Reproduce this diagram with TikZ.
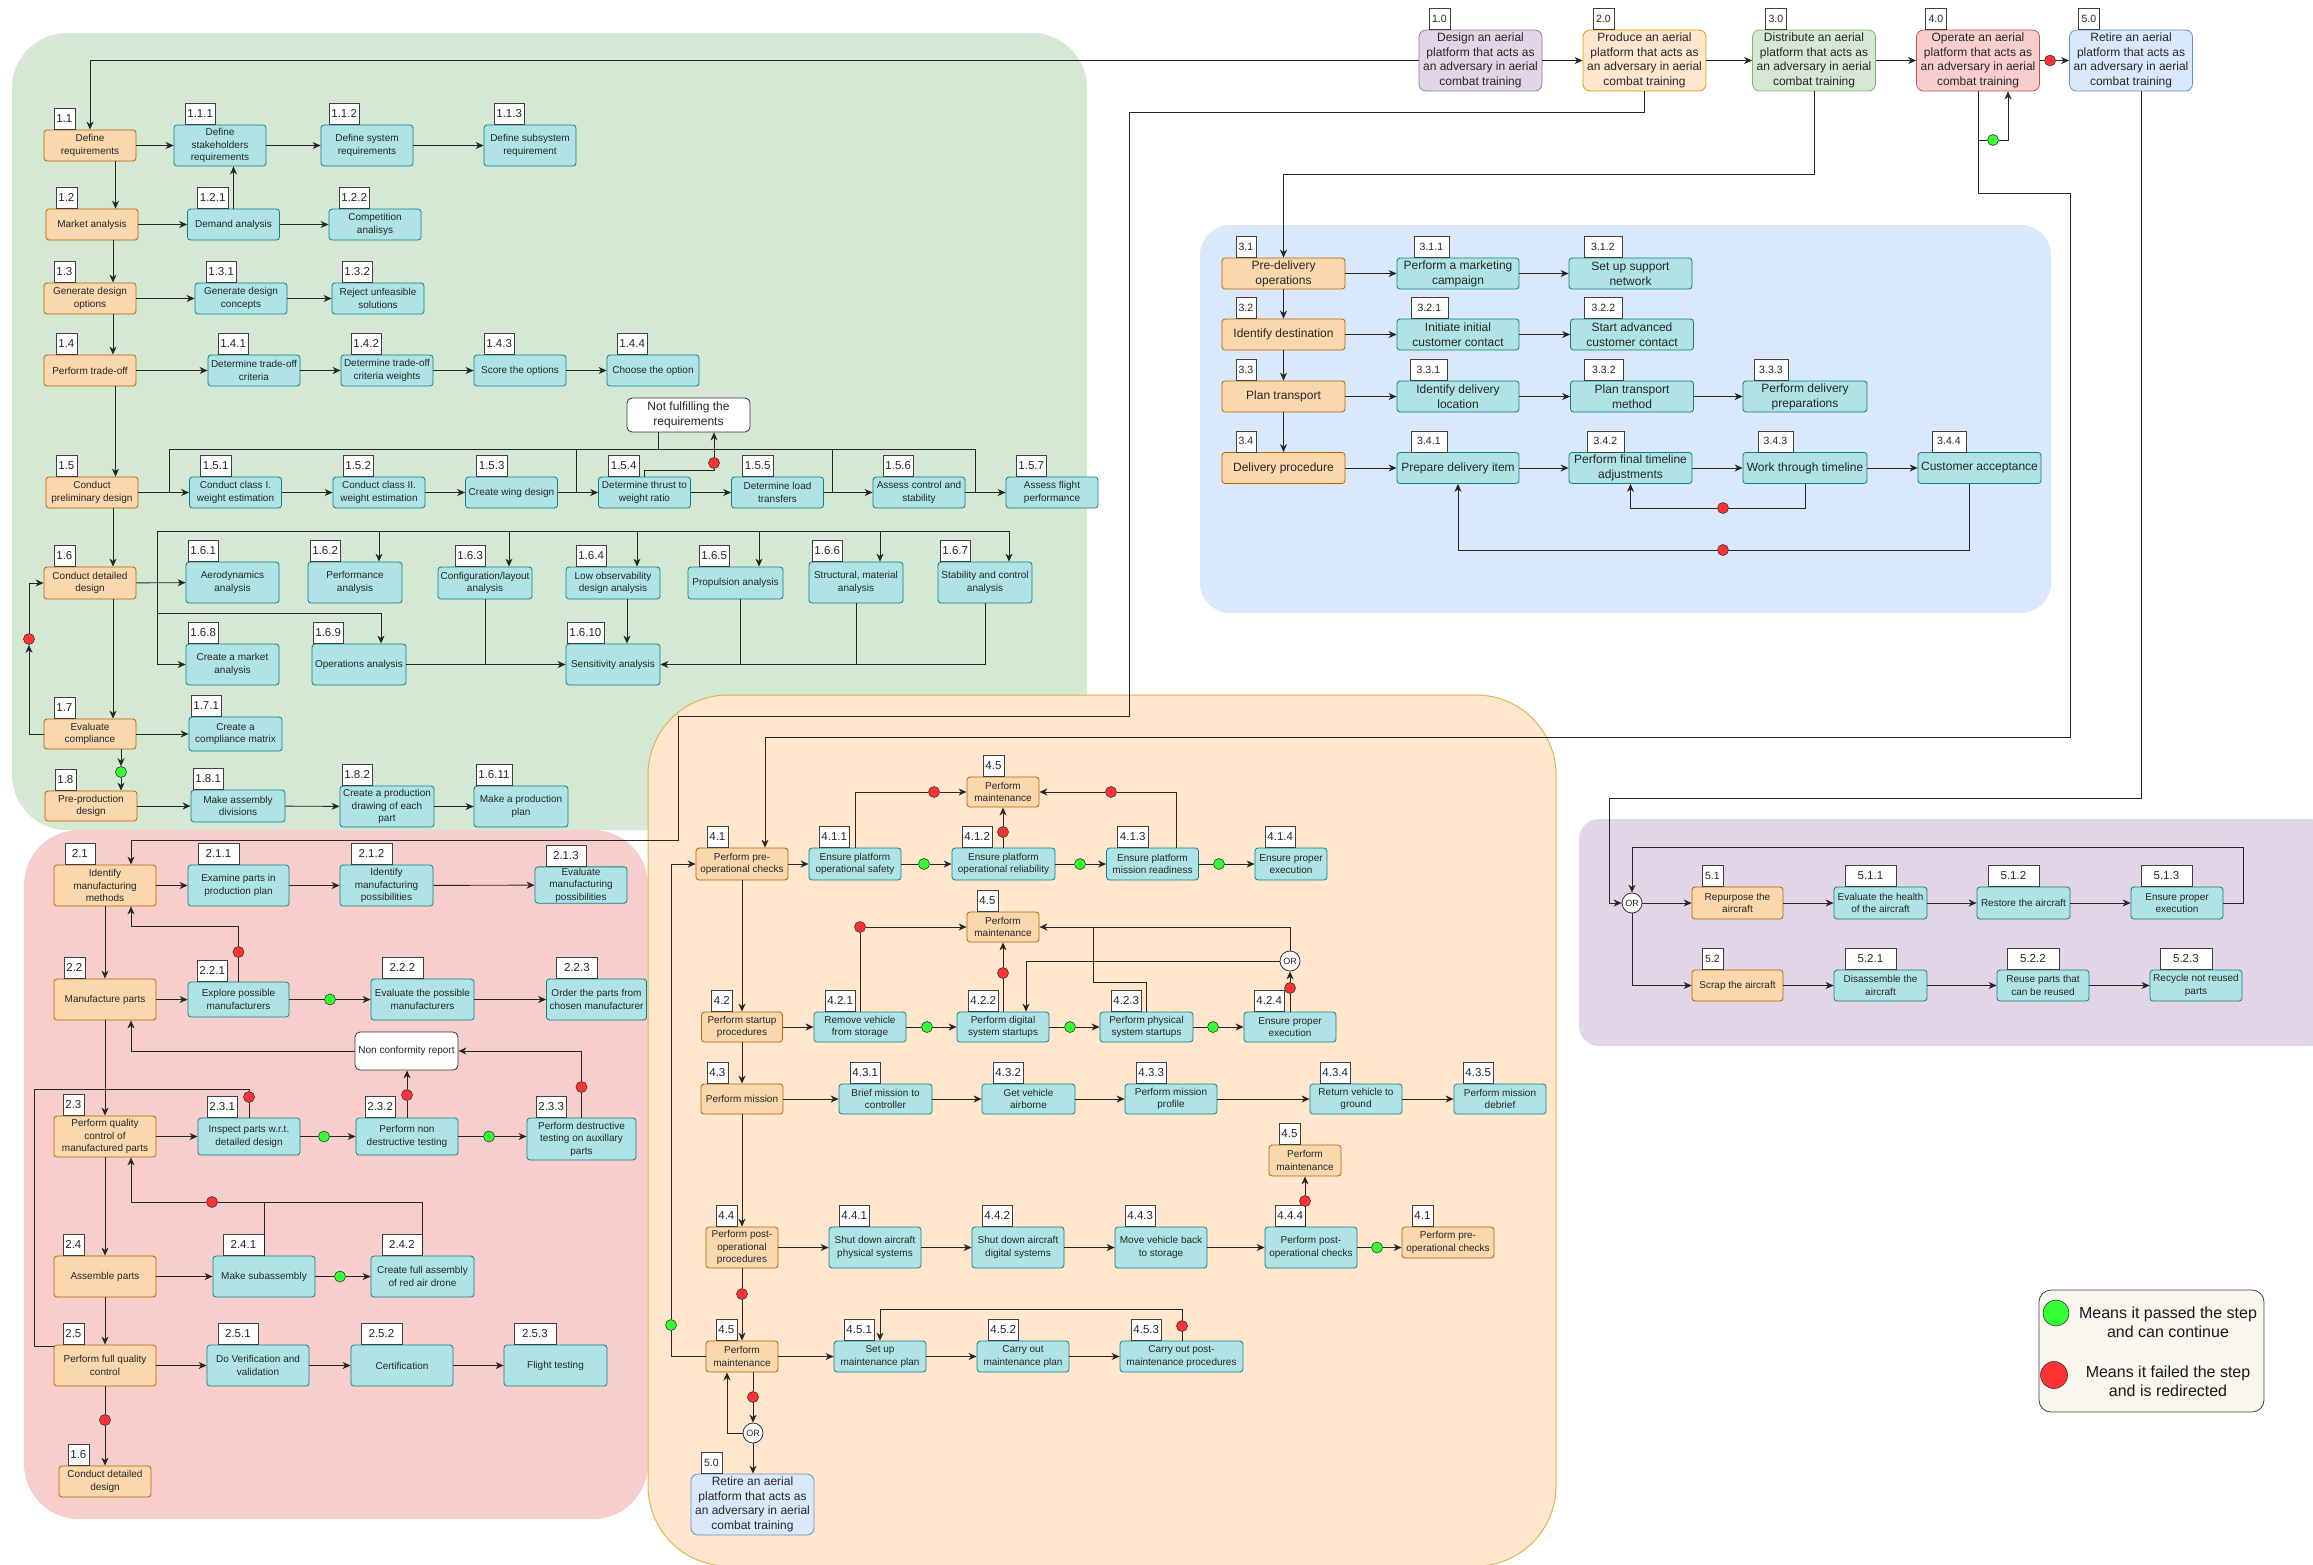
\documentclass[tikz,border=0pt]{standalone}
\usepackage{fontspec}
\setmainfont{Liberation Sans}
\usetikzlibrary{arrows.meta, positioning}

\definecolor{tealfill}{HTML}{B0E3E6}
\definecolor{tealline}{HTML}{0E8088}
\definecolor{phasefill}{HTML}{FAD7AC}
\definecolor{phaseline}{HTML}{B46504}
\definecolor{greenbg}{HTML}{D5E8D4}
\definecolor{greenline}{HTML}{82B366}
\definecolor{redbg}{HTML}{F8CECC}
\definecolor{redline}{HTML}{B85450}
\definecolor{orangebg}{HTML}{FFE6CC}
\definecolor{orangeline}{HTML}{D79B00}
\definecolor{orangerim}{HTML}{D6B656}
\definecolor{bluebg}{HTML}{DAE8FC}
\definecolor{blueline}{HTML}{6C8EBF}
\definecolor{purplebg}{HTML}{E1D5E7}
\definecolor{purpleline}{HTML}{9673A6}
\definecolor{passgreen}{HTML}{33FF33}
\definecolor{failred}{HTML}{FF3333}
\definecolor{legendfill}{HTML}{F9F7ED}

\begin{document}
\begin{tikzpicture}[
    x=1pt, y=-1pt,
    taskbox/.style={rectangle, rounded corners=3pt, draw=tealline, fill=tealfill, line width=0.8pt, align=center, inner sep=1pt, text=black!85, font=\fontsize{10}{12.5}\selectfont, minimum width=92pt, minimum height=31pt},
    phasebox/.style={taskbox, draw=phaseline, fill=phasefill},
    bigtext/.style={font=\fontsize{12}{15}\selectfont},
    lvlbox/.style={rectangle, rounded corners=7pt, line width=0.8pt, align=center, inner sep=1pt, text=black!85, font=\fontsize{12}{14.7}\selectfont, minimum width=123pt, minimum height=61pt},
    notebox/.style={rectangle, rounded corners=5pt, draw=black!80, fill=white, line width=0.8pt, align=center, inner sep=1pt, text=black!85},
    numtag/.style={rectangle, sharp corners, draw=black!75, fill=white, line width=0.6pt, text=black!85, inner xsep=2.5pt, inner ysep=0pt, minimum width=0pt, minimum height=21pt, anchor=south west, font=\fontsize{11.5}{12}\selectfont},
    tg/.style 2 args={label={[numtag, xshift=#1pt]north west:#2}},
    tgw/.style n args={3}{label={[numtag, xshift=#1pt, minimum width=#2pt]north west:#3}},
    tgs/.style n args={3}{label={[numtag, font=\fontsize{10.5}{11}\selectfont, xshift=#1pt, minimum width=#2pt]north west:#3}},
    wd/.style={minimum width=#1pt},
    ht/.style={minimum height=#1pt},
    okdot/.style={circle, draw=black!80, fill=passgreen, line width=0.6pt, minimum size=11pt, inner sep=0pt},
    faildot/.style={circle, draw=black!80, fill=failred, line width=0.6pt, minimum size=11pt, inner sep=0pt},
    orgate/.style={circle, draw=black!80, fill=white, line width=0.8pt, minimum size=20pt, inner sep=0pt, text=black!85, font=\fontsize{9}{10}\selectfont},
    arr/.style={draw=black!85, line width=0.9pt, -{Stealth[length=8pt, width=7pt, inset=2.5pt]}},
    ln/.style={draw=black!85, line width=0.9pt}
]
    \useasboundingbox (0,0) rectangle (2313,1564);
    \clip (0,0) rectangle (2313,1564);

    % phase areas
    \fill[greenbg, rounded corners=55pt] (12,33) rectangle (1087,830);
    \fill[redbg, rounded corners=55pt] (24,830) rectangle (648,1519);
    \filldraw[fill=orangebg, draw=orangerim, line width=1pt, rounded corners=80pt] (648,695) rectangle (1556,1566);
    \fill[bluebg, rounded corners=30pt] (1200,225) rectangle (2051,613);
    \fill[purplebg, rounded corners=20pt] (1579,819) rectangle (2330,1046);

    % life cycle
    \node[lvlbox, fill=purplebg, draw=purpleline, tgs={10}{21}{1.0}] (n10) at (1480.5,60.5) {Design an aerial\\platform that acts as\\an adversary in aerial\\combat training};
    \node[lvlbox, fill=orangebg, draw=orangeline, tgs={10}{21}{2.0}] (n20) at (1644.5,60.5) {Produce an aerial\\platform that acts as\\an adversary in aerial\\combat training};
    \node[lvlbox, fill=greenbg, draw=greenline, tgs={13}{21}{3.0}] (n30) at (1814,60.5) {Distribute an aerial\\platform that acts as\\an adversary in aerial\\combat training};
    \node[lvlbox, fill=redbg, draw=redline, tgs={9}{21}{4.0}] (n40) at (1978,60.5) {Operate an aerial\\platform that acts as\\an adversary in aerial\\combat training};
    \node[lvlbox, fill=bluebg, draw=blueline, tgs={9}{21}{5.0}] (n50) at (2131,60.5) {Retire an aerial\\platform that acts as\\an adversary in aerial\\combat training};

    % 1.x design
    \node[phasebox, tg={10}{1.1}] (n11) at (90,145.5) {Define\\requirements};
    \node[taskbox, ht=41, tg={11}{1.1.1}] (n111) at (220,145.5) {Define\\stakeholders\\requirements};
    \node[taskbox, ht=41, tg={8}{1.1.2}] (n112) at (367,145.5) {Define system\\requirements};
    \node[taskbox, ht=41, tg={10}{1.1.3}] (n113) at (530,145.5) {Define subsystem\\requirement};
    \node[phasebox, tg={10}{1.2}] (n12) at (92,224.5) {Market analysis};
    \node[taskbox, tg={10}{1.2.1}] (n121) at (233.5,224.5) {Demand analysis};
    \node[taskbox, tg={10}{1.2.2}] (n122) at (375,224.5) {Competition\\analisys};
    \node[phasebox, tg={10}{1.3}] (n13) at (90,298.5) {Generate design\\options};
    \node[taskbox, tg={11}{1.3.1}] (n131) at (241,298.5) {Generate design\\concepts};
    \node[taskbox, tg={10}{1.3.2}] (n132) at (378,298.5) {Reject unfeasible\\solutions};
    \node[phasebox, tg={12}{1.4}] (n14) at (90,370.5) {Perform trade-off};
    \node[taskbox, tg={10}{1.4.1}] (n141) at (254,370.5) {Determine trade-off\\criteria};
    \node[taskbox, tg={10}{1.4.2}] (n142) at (387,370.5) {Determine trade-off\\criteria weights};
    \node[taskbox, tg={10}{1.4.3}] (n143) at (520,370.5) {Score the options};
    \node[taskbox, tg={10}{1.4.4}] (n144) at (653,370.5) {Choose the option};
    \node[phasebox, tg={10}{1.5}] (n15) at (92,492.5) {Conduct\\preliminary design};
    \node[taskbox, tg={11}{1.5.1}] (n151) at (235.5,492.5) {Conduct class I.\\weight estimation};
    \node[taskbox, tg={10}{1.5.2}] (n152) at (379,492.5) {Conduct class II.\\weight estimation};
    \node[taskbox, tg={11}{1.5.3}] (n153) at (511.5,492.5) {Create wing design};
    \node[taskbox, tg={10}{1.5.4}] (n154) at (644.5,492.5) {Determine thrust to\\weight ratio};
    \node[taskbox, tg={11}{1.5.5}] (n155) at (777.5,492.5) {Determine load\\transfers};
    \node[taskbox, tg={10}{1.5.6}] (n156) at (919,492.5) {Assess control and\\stability};
    \node[taskbox, tg={10}{1.5.7}] (n157) at (1052,492.5) {Assess flight\\performance};
    \node[notebox, font=\fontsize{12}{14.7}\selectfont, wd=123, ht=34] (nfr) at (688.5,415) {Not fulfilling the\\requirements};
    \node[phasebox, ht=32, tg={10}{1.6}] (n16) at (90,583) {Conduct detailed\\design};
    \node[taskbox, wd=93, ht=41, tg={2}{1.6.1}] (n161) at (232.5,582.5) {Aerodynamics\\analysis};
    \node[taskbox, wd=94, ht=41, tg={2}{1.6.2}] (n162) at (355,582.5) {Performance\\analysis};
    \node[taskbox, wd=94, ht=32, tg={17}{1.6.3}] (n163) at (485,583) {Configuration/layout\\analysis};
    \node[taskbox, wd=94, ht=32, tg={10}{1.6.4}] (n164) at (613,583) {Low observability\\design analysis};
    \node[taskbox, wd=95, ht=32, tg={11}{1.6.5}] (n165) at (735.5,583) {Propulsion analysis};
    \node[taskbox, wd=94, ht=41, tg={3}{1.6.6}] (n166) at (856,582.5) {Structural, material\\analysis};
    \node[taskbox, wd=94, ht=41, tg={2}{1.6.7}] (n167) at (985,582.5) {Stability and control\\analysis};
    \node[taskbox, wd=93, ht=41, tg={2}{1.6.8}] (n168) at (232.5,664.5) {Create a market\\analysis};
    \node[taskbox, wd=94, ht=41, tg={1}{1.6.9}] (n169) at (359,664.5) {Operations analysis};
    \node[taskbox, wd=94, ht=41, tg={1}{1.6.10}] (n1610) at (613,664.5) {Sensitivity analysis};
    \node[phasebox, ht=30, tg={10}{1.7}] (n17) at (90,734) {Evaluate\\compliance};
    \node[taskbox, wd=93, ht=34, tg={2}{1.7.1}] (n171) at (235.5,734) {Create a\\compliance matrix};
    \node[phasebox, ht=30, tg={10}{1.8}] (n18) at (91,806) {Pre-production\\design};
    \node[taskbox, wd=94, ht=32, tg={2}{1.8.1}] (n181) at (238,806) {Make assembly\\divisions};
    \node[taskbox, wd=94, ht=41, tg={2}{1.8.2}] (n182) at (387,806.5) {Create a production\\drawing of each\\part};
    \node[taskbox, wd=94, ht=41, tg={2}{1.6.11}] (n1611) at (521,806.5) {Make a production\\plan};

    % 2.x production
    \node[phasebox, wd=102, ht=41, tgw={11}{30}{2.1}] (n21) at (105,885.5) {Identify\\manufacturing\\methods};
    \node[taskbox, wd=101, ht=41, tgw={10}{41}{2.1.1}] (n211) at (238.5,885.5) {Examine parts in\\production plan};
    \node[taskbox, wd=93, ht=41, tgw={11}{41}{2.1.2}] (n212) at (386.5,885.5) {Identify\\manufacturing\\possibilities};
    \node[taskbox, wd=92, ht=34, tgw={11}{40}{2.1.3}] (n213) at (581,885) {Evaluate\\manufacturing\\possibilities};
    \node[phasebox, wd=102, ht=41, tg={10}{2.2}] (n22) at (105,999.5) {Manufacture parts};
    \node[taskbox, wd=101, ht=35, tg={9}{2.2.1}] (n221) at (238.5,999.5) {Explore possible\\manufacturers};
    \node[taskbox, wd=103, ht=41, tgw={11}{41}{2.2.2}] (n222) at (422.5,999.5) {Evaluate the possible\\manufacturers};
    \node[taskbox, wd=100, ht=41, tgw={10}{41}{2.2.3}] (n223) at (596.5,999.5) {Order the parts from\\chosen manufacturer};
    \node[notebox, font=\fontsize{10}{12}\selectfont, wd=103, ht=38] (ncr) at (406.5,1051) {Non conformity report};
    \node[phasebox, wd=102, ht=41, tg={9}{2.3}] (n23) at (105,1136.5) {Perform quality\\control of\\manufactured parts};
    \node[taskbox, wd=102, ht=37, tg={9}{2.3.1}] (n231) at (249,1136.5) {Inspect parts w.r.t.\\detailed design};
    \node[taskbox, wd=102, ht=37, tg={9}{2.3.2}] (n232) at (407,1136.5) {Perform non\\destructive testing};
    \node[taskbox, wd=109, ht=42, tg={9}{2.3.3}] (n233) at (581.5,1139) {Perform destructive\\testing on auxillary\\parts};
    \node[phasebox, wd=102, ht=41, tg={9}{2.4}] (n24) at (105,1276.5) {Assemble parts};
    \node[taskbox, wd=102, ht=41, tgw={10}{41}{2.4.1}] (n241) at (264,1276.5) {Make subassembly};
    \node[taskbox, wd=103, ht=41, tgw={11}{40}{2.4.2}] (n242) at (422.5,1276.5) {Create full assembly\\of red air drone};
    \node[phasebox, wd=102, ht=41, tg={9}{2.5}] (n25) at (105,1365.5) {Perform full quality\\control};
    \node[taskbox, wd=102, ht=41, tgw={11}{40}{2.5.1}] (n251) at (258,1365.5) {Do Verification and\\validation};
    \node[taskbox, wd=102, ht=41, tgw={10}{41}{2.5.2}] (n252) at (402,1365.5) {Certification};
    \node[taskbox, wd=103, ht=41, tgw={10}{42}{2.5.3}] (n253) at (555.5,1365.5) {Flight testing};
    \node[phasebox, tg={9}{1.6}] (n16b) at (105,1481.5) {Conduct detailed\\design};

    % 3.x distribution
    \node[phasebox, bigtext, wd=123, tgs={14}{20}{3.1}] (n31) at (1283.5,273.5) {Pre-delivery\\operations};
    \node[taskbox, bigtext, wd=122, tgs={17}{35}{3.1.1}] (n311) at (1458,273.5) {Perform a marketing\\campaign};
    \node[taskbox, bigtext, wd=123, tgs={15}{38}{3.1.2}] (n312) at (1630.5,273.5) {Set up support\\network};
    \node[phasebox, bigtext, wd=123, tgs={14}{20}{3.2}] (n32) at (1283.5,334.5) {Identify destination};
    \node[taskbox, bigtext, wd=122, tgs={14}{37}{3.2.1}] (n321) at (1458,334.5) {Initiate initial\\customer contact};
    \node[taskbox, bigtext, wd=123, tgs={14}{38}{3.2.2}] (n322) at (1632,334.5) {Start advanced\\customer contact};
    \node[phasebox, bigtext, wd=123, tgs={14}{20}{3.3}] (n33) at (1283.5,396.5) {Plan transport};
    \node[taskbox, bigtext, wd=122, tgs={13}{37}{3.3.1}] (n331) at (1458,396.5) {Identify delivery\\location};
    \node[taskbox, bigtext, wd=123, tgs={14}{39}{3.3.2}] (n332) at (1632,396.5) {Plan transport\\method};
    \node[taskbox, bigtext, wd=124, tgs={11}{34}{3.3.3}] (n333) at (1805,396.5) {Perform delivery\\preparations};
    \node[phasebox, bigtext, wd=123, tgs={14}{20}{3.4}] (n34) at (1283.5,468) {Delivery procedure};
    \node[taskbox, bigtext, wd=122, tgs={14}{36}{3.4.1}] (n341) at (1458,468) {Prepare delivery item};
    \node[taskbox, bigtext, wd=123, tgs={18}{37}{3.4.2}] (n342) at (1630.5,468) {Perform final timeline\\adjustments};
    \node[taskbox, bigtext, wd=124, tgs={15}{35}{3.4.3}] (n343) at (1805,468) {Work through timeline};
    \node[taskbox, bigtext, wd=123, tgs={14}{34}{3.4.4}] (n344) at (1979.5,468) {Customer acceptance};

    % 4.x operation
    \node[phasebox, ht=32, tg={11}{4.1}] (n41) at (742,864) {Perform pre-\\operational checks};
    \node[taskbox, ht=32, tg={10}{4.1.1}] (n411) at (855,864) {Ensure platform\\operational safety};
    \node[taskbox, wd=103, ht=32, tg={10}{4.1.2}] (n412) at (1003.5,864) {Ensure platform\\operational reliability};
    \node[taskbox, ht=32, tg={11}{4.1.3}] (n413) at (1152.5,864) {Ensure platform\\mission readiness};
    \node[taskbox, wd=72, ht=32, tg={10}{4.1.4}] (n414) at (1291,864) {Ensure proper\\execution};
    \node[phasebox, wd=72, ht=30, tg={16}{4.5}] (m45a) at (1003,792) {Perform\\maintenance};
    \node[phasebox, wd=72, ht=30, tg={10}{4.5}] (m45b) at (1003,927) {Perform\\maintenance};
    \node[phasebox, wd=81, ht=30, tg={10}{4.2}] (n42) at (742,1027) {Perform startup\\procedures};
    \node[taskbox, ht=30, tg={11}{4.2.1}] (n421) at (860,1027) {Remove vehicle\\from storage};
    \node[taskbox, ht=30, tg={11}{4.2.2}] (n422) at (1003,1027) {Perform digital\\system startups};
    \node[taskbox, wd=93, ht=30, tg={11}{4.2.3}] (n423) at (1146.5,1027) {Perform physical\\system startups};
    \node[taskbox, ht=30, tg={10}{4.2.4}] (n424) at (1290,1027) {Ensure proper\\execution};
    \node[phasebox, wd=82, ht=30, tg={6}{4.3}] (n43) at (742,1099) {Perform mission};
    \node[taskbox, wd=93, ht=30, tg={11}{4.3.1}] (n431) at (885.5,1099) {Brief mission to\\controller};
    \node[taskbox, wd=93, ht=30, tg={11}{4.3.2}] (n432) at (1028.5,1099) {Get vehicle\\airborne};
    \node[taskbox, ht=30, tg={11}{4.3.3}] (n433) at (1171,1099) {Perform mission\\profile};
    \node[taskbox, ht=30, tg={10}{4.3.4}] (n434) at (1356,1099) {Return vehicle to\\ground};
    \node[taskbox, ht=30, tg={9}{4.3.5}] (n435) at (1500,1099) {Perform mission\\debrief};
    \node[phasebox, wd=72, ht=41, tg={10}{4.4}] (n44) at (742,1247.5) {Perform post-\\operational\\procedures};
    \node[taskbox, ht=41, tg={10}{4.4.1}] (n441) at (875,1247.5) {Shut down aircraft\\physical systems};
    \node[taskbox, ht=41, tg={10}{4.4.2}] (n442) at (1018,1247.5) {Shut down aircraft\\digital systems};
    \node[taskbox, ht=41, tg={10}{4.4.3}] (n443) at (1161,1247.5) {Move vehicle back\\to storage};
    \node[taskbox, ht=41, tg={10}{4.4.4}] (n444) at (1311,1247.5) {Perform post-\\operational checks};
    \node[phasebox, tg={10}{4.1}] (n41b) at (1448,1242.5) {Perform pre-\\operational checks};
    \node[phasebox, wd=72, tg={10}{4.5}] (m45c) at (1305,1160.5) {Perform\\maintenance};
    \node[phasebox, wd=72, tg={10}{4.5}] (n45) at (742,1356.5) {Perform\\maintenance};
    \node[taskbox, tg={10}{4.5.1}] (n451) at (880,1356.5) {Set up\\maintenance plan};
    \node[taskbox, tg={11}{4.5.2}] (n452) at (1023,1356.5) {Carry out\\maintenance plan};
    \node[taskbox, wd=123, tg={11}{4.5.3}] (n453) at (1181.5,1356.5) {Carry out post-\\maintenance procedures};
    \node[lvlbox, fill=bluebg, draw=blueline, tgs={10}{21}{5.0}] (n50b) at (752.5,1504.5) {Retire an aerial\\platform that acts as\\an adversary in aerial\\combat training};
    \node[orgate] (or42) at (1290,961) {OR};
    \node[orgate] (or45) at (753,1433) {OR};

    % 5.x retirement
    \node[orgate] (or5) at (1632,903) {OR};
    \node[phasebox, wd=91, ht=32, tgs={10}{21}{5.1}] (n51) at (1737.5,903) {Repurpose the\\aircraft};
    \node[taskbox, wd=93, ht=32, tgw={11}{51}{5.1.1}] (n511) at (1880.5,903) {Evaluate the health\\of the aircraft};
    \node[taskbox, wd=93, ht=32, tgw={11}{51}{5.1.2}] (n512) at (2023.5,903) {Restore the aircraft};
    \node[taskbox, ht=32, tgw={10}{51}{5.1.3}] (n513) at (2177,903) {Ensure proper\\execution};
    \node[phasebox, wd=91, tgs={10}{21}{5.2}] (n52) at (1737.5,985.5) {Scrap the aircraft};
    \node[taskbox, wd=93, tgw={11}{51}{5.2.1}] (n521) at (1880.5,985.5) {Disassemble the\\aircraft};
    \node[taskbox, tgw={10}{52}{5.2.2}] (n522) at (2043,985.5) {Reuse parts that\\can be reused};
    \node[taskbox, tgw={10}{52}{5.2.3}] (n523) at (2196,985.5) {Recycle not reused\\parts};

    % legend
    \node[draw=black!75, fill=legendfill, rounded corners=12pt, line width=0.8pt, minimum width=225pt, minimum height=122pt] (leg) at (2151.5,1351) {};
    \node[okdot, minimum size=26pt] (legok) at (2056,1313) {};
    \node[faildot, minimum size=27pt] (legfail) at (2054,1375) {};
    \node[align=center, text=black!90, font=\fontsize{16}{19}\selectfont] (legpass) at (2168,1322) {Means it passed the step\\and can continue};
    \node[align=center, text=black!90, font=\fontsize{16}{19}\selectfont] (legred) at (2168,1381) {Means it failed the step\\and is redirected};

    % life cycle connectors
    \draw[arr] (n10) -- (n20);
    \draw[arr] (n20) -- (n30);
    \draw[arr] (n30) -- (n40);
    \node[faildot] (d40) at (2050,60.5) {};
    \draw[ln] (n40) -- (d40);
    \draw[arr] (d40) -- (n50);
    \draw[arr] (n10.west) -| (n11.north);
    \draw[arr] (n20.south) |- (1129,112) |- (678,716) |- (131,840) -- (131,0 |- n21.north);
    \draw[arr] (n30.south) |- (1283.5,174) -- (n31.north);
    \draw[arr] (n40.south) |- (2070,193) |- (765,737) -- (765,0 |- n41.north);
    \coordinate (j40) at (1978,140);
    \node[okdot] (g40) at (1993,140) {};
    \draw[ln] (j40) -- (g40);
    \draw[arr] (g40) -| ([xshift=30pt]n40.south);
    \draw[arr] ([xshift=10pt]n50.south) |- (1609,798) |- (or5.west);

    % design connectors
    \foreach \a/\b in {n11/n111, n111/n112, n112/n113, n12/n121, n121/n122, n13/n131, n131/n132, n14/n141, n141/n142, n142/n143, n143/n144, n15/n151, n151/n152, n152/n153, n153/n154, n154/n155, n155/n156, n156/n157, n16/n161, n169/n1610, n17/n171, n18/n181, n181/n182, n182/n1611}
        \draw[arr] (\a) -- (\b);
    \draw[arr] (115.5,0 |- n11.south) -- (115.5,0 |- n12.north);
    \draw[arr] (n121.north) -- (n121.north |- n111.south);
    \draw[arr] (113,0 |- n12.south) -- (113,0 |- n13.north);
    \draw[arr] (113,0 |- n13.south) -- (113,0 |- n14.north);
    \draw[arr] (115.5,0 |- n14.south) -- (115.5,0 |- n15.north);
    \draw[ln] (169,0 |- n15.east) |- (975,449) -- (975,0 |- n15.east);
    \draw[ln] (576,449) -- (576,0 |- n15.east);
    \draw[ln] (832,449) -- (832,0 |- n15.east);
    \draw[ln] (658,449) -- (658,0 |- nfr.south);
    \node[faildot] (d154) at (714,463) {};
    \draw[ln] (n154.north) |- (714,470) -- (d154);
    \draw[arr] (d154) -- (d154 |- nfr.south);
    \draw[arr] (113,0 |- n15.south) -- (113,0 |- n16.north);
    \draw[ln] (157,531) -- (1009,531);
    \draw[arr] (157,531) |- (n168.west);
    \foreach \x/\t in {379/n162, 509/n163, 637/n164, 759/n165, 880/n166, 1009/n167}
        \draw[arr] (\x,531) -- (\x,0 |- \t.north);
    \draw[arr] (157,613) -| (381,0 |- n169.north);
    \draw[arr] (627,0 |- n164.south) -- (627,0 |- n1610.north);
    \draw[ln] (485,0 |- n163.south) -- (485,0 |- n1610.west);
    \draw[ln] (740,0 |- n165.south) -- (740,0 |- n1610.east);
    \draw[ln] (856,0 |- n166.south) -- (856,0 |- n1610.east);
    \draw[arr] (985,0 |- n167.south) |- (n1610.east);
    \draw[arr] (113,0 |- n16.south) -- (113,0 |- n17.north);
    \node[faildot] (d17) at (29,639) {};
    \draw[arr] (n17.west) -| (d17);
    \draw[arr] (d17) |- (n16.west);
    \node[okdot] (g17) at (121,772) {};
    \draw[arr] (121,0 |- n17.south) -- (g17);
    \draw[arr] (g17) -- (121,0 |- n18.north);

    % production connectors
    \foreach \a/\b in {n21/n211, n211/n212, n212/n213, n22/n221, n222/n223, n23/n231, n24/n241, n25/n251, n251/n252, n252/n253}
        \draw[arr] (\a) -- (\b);
    \draw[arr] (105,0 |- n21.south) -- (105,0 |- n22.north);
    \node[okdot] (g221) at (330,999.5) {};
    \draw[ln] (n221) -- (g221);
    \draw[arr] (g221) -- (n222);
    \node[faildot] (d221) at (238.5,952) {};
    \draw[ln] (n221.north) -- (d221);
    \draw[arr] (d221) |- (131,926) -- (131,0 |- n21.south);
    \draw[arr] (ncr.west) -| (131,0 |- n22.south);
    \draw[arr] (105,0 |- n22.south) -- (105,0 |- n23.north);
    \node[okdot] (g231) at (324,1136.5) {};
    \draw[ln] (n231) -- (g231);
    \draw[arr] (g231) -- (n232);
    \node[okdot] (g232) at (489,1136.5) {};
    \draw[ln] (n232) -- (g232);
    \draw[arr] (g232) -- (g232 -| n233.west);
    \node[faildot] (d232) at (407,1095) {};
    \draw[ln] (n232.north) -- (d232);
    \draw[arr] (d232) -- (d232 |- ncr.south);
    \node[faildot] (d233) at (581.5,1087) {};
    \draw[ln] (n233.north) -- (d233);
    \draw[arr] (d233) |- (ncr.east);
    \node[faildot] (d231) at (249,1097) {};
    \draw[ln] (n231.north) -- (d231);
    \draw[ln] (d231) |- (34,1089) |- ([yshift=-2pt]n25.north west);
    \draw[arr] (105,0 |- n23.south) -- (105,0 |- n24.north);
    \node[okdot] (g241) at (340,1276.5) {};
    \draw[ln] (n241) -- (g241);
    \draw[arr] (g241) -- (n242);
    \draw[ln] (n242.north) |- (n241.north |- 0,1202) -- (n241.north);
    \node[faildot] (d24) at (212,1202) {};
    \draw[ln] (n241.north |- 0,1202) -- (d24);
    \draw[arr] (d24) -| (131,0 |- n23.south);
    \draw[arr] (105,0 |- n24.south) -- (105,0 |- n25.north);
    \node[faildot] (d25) at (105,1420) {};
    \draw[ln] (105,0 |- n25.south) -- (d25);
    \draw[arr] (d25) -- (105,0 |- n16b.north);

    % distribution connectors
    \foreach \a/\b in {n31/n311, n311/n312, n32/n321, n321/n322, n33/n331, n331/n332, n332/n333, n34/n341, n341/n342, n342/n343, n343/n344, n31/n32, n32/n33, n33/n34}
        \draw[arr] (\a) -- (\b);
    \node[faildot] (d343) at (1723,508) {};
    \draw[ln] (n343.south) |- (d343);
    \draw[arr] (d343) -| (n342.south);
    \node[faildot] (d344) at (1723,550) {};
    \draw[ln] (1969,0 |- n344.south) |- (d344);
    \draw[arr] (d344) -| (n341.south);

    % operation connectors
    \foreach \a/\b in {n41/n411, n42/n421, n43/n431, n431/n432, n432/n433, n433/n434, n434/n435, n44/n441, n441/n442, n442/n443, n443/n444, n45/n451, n451/n452, n452/n453}
        \draw[arr] (\a) -- (\b);
    \foreach \a/\g/\b/\x in {n411/g411/n412/924, n412/g412/n413/1080, n413/g413/n414/1219}{
        \node[okdot] (\g) at (\x,864) {};
        \draw[ln] (\a) -- (\g);
        \draw[arr] (\g) -- (\b);
    }
    \foreach \a/\g/\b/\x in {n421/g421/n422/927, n422/g422/n423/1070, n423/g423/n424/1213}{
        \node[okdot] (\g) at (\x,1027) {};
        \draw[ln] (\a) -- (\g);
        \draw[arr] (\g) -- (\b);
    }
    \node[faildot] (d411) at (934,792) {};
    \draw[ln] (n411.north) |- (d411);
    \draw[arr] (d411) -- (m45a.west);
    \node[faildot] (d412) at (1003,832) {};
    \draw[ln] (1003,0 |- n412.north) -- (d412);
    \draw[arr] (d412) -- (m45a.south);
    \node[faildot] (d413) at (1111,792) {};
    \draw[ln] (1176,0 |- n413.north) |- (d413);
    \draw[arr] (d413) -- (m45a.east);
    \draw[arr] (n41.south) -- (n42.north);
    \node[faildot] (d421) at (860,927) {};
    \draw[ln] (n421.north) -- (d421);
    \draw[arr] (d421) -- (m45b.west);
    \node[faildot] (d422) at (1003,973) {};
    \draw[ln] (n422.north) -- (d422);
    \draw[arr] (d422) -- (m45b.south);
    \node[faildot] (d424) at (1290,988) {};
    \draw[ln] (n424.north) -- (d424);
    \draw[arr] (d424) -- (or42);
    \draw[arr] (or42.west) -| (1026,0 |- n422.north);
    \draw[arr] (or42.north) |- (m45b.east);
    \draw[ln] (1146,0 |- n423.north) |- (1093,982) -- (1093,927);
    \draw[arr] (n42.south) -- (n43.north);
    \draw[arr] (n43.south) -- (n44.north);
    \node[okdot] (g444) at (1377,1247.5) {};
    \draw[ln] (n444) -- (g444);
    \draw[arr] (g444) -- (g444 -| n41b.west);
    \node[faildot] (d444) at (1305,1201) {};
    \draw[ln] (1305,0 |- n444.north) -- (d444);
    \draw[arr] (d444) -- (d444 |- m45c.south);
    \node[faildot] (d44) at (742,1294) {};
    \draw[ln] (n44.south) -- (d44);
    \draw[arr] (d44) -- (n45.north);
    \node[faildot] (d453) at (1182,1326) {};
    \draw[ln] (1182,0 |- n453.north) -- (d453);
    \draw[arr] (d453) |- (880,1309) -- (n451.north);
    \node[okdot] (g45) at (671,1325) {};
    \draw[ln] (n45.west) -| (g45);
    \draw[arr] (g45) |- (n41.west);
    \node[faildot] (d45) at (753,1397) {};
    \draw[ln] (753,0 |- n45.south) -- (d45);
    \draw[arr] (d45) -- (or45);
    \draw[arr] (or45.west) -| (727,0 |- n45.south);
    \draw[arr] (or45.south) -- (or45.south |- n50b.north);

    % retirement connectors
    \foreach \a/\b in {or5/n51, n51/n511, n511/n512, n512/n513, n52/n521, n521/n522, n522/n523}
        \draw[arr] (\a) -- (\b);
    \draw[arr] (or5.south) |- (n52.west);
    \draw[arr] (n513.east) -| (2243,847) -| (or5.north);
\end{tikzpicture}
\end{document}
